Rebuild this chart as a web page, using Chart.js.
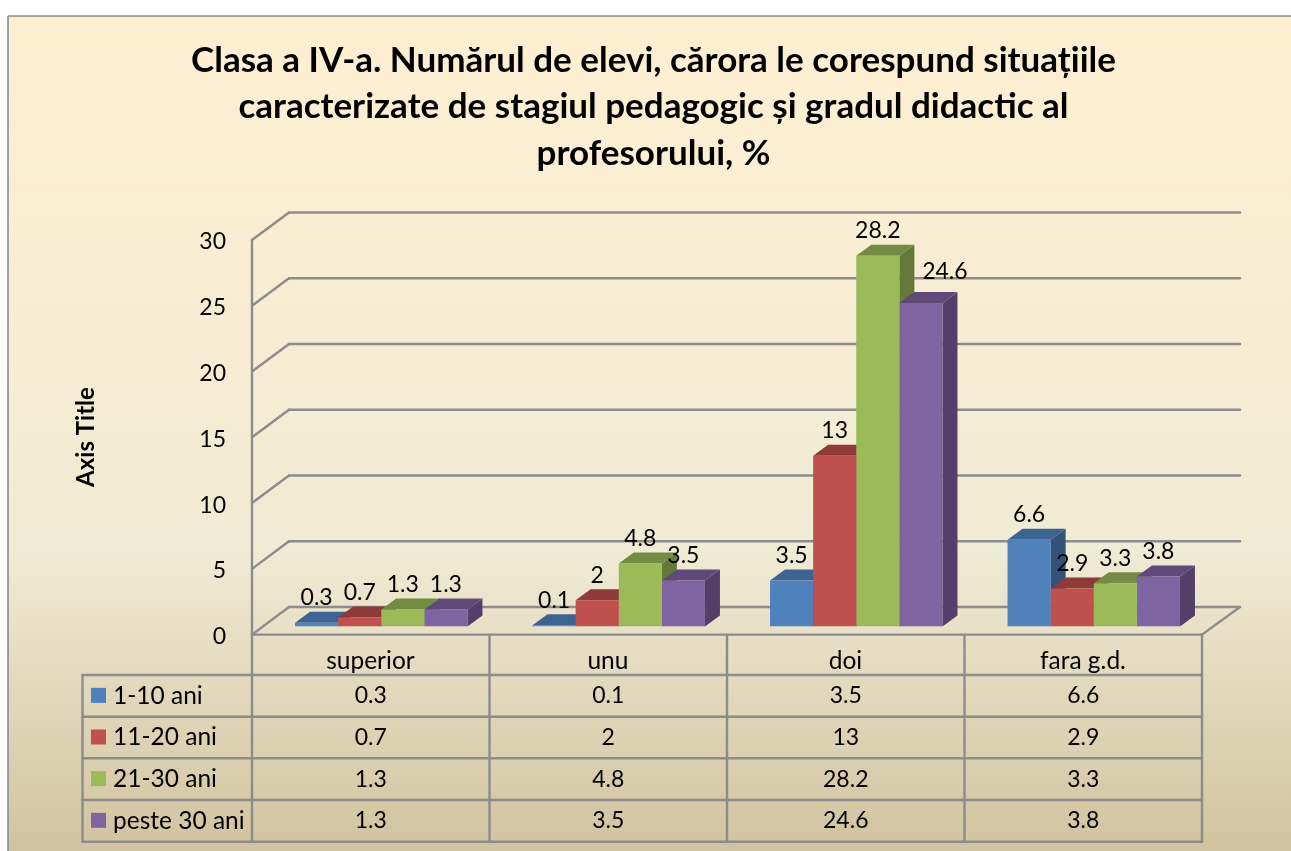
<!DOCTYPE html>
<html>
<head>
<meta charset="utf-8">
<style>html,body{margin:0;padding:0;background:#fff}canvas{display:block}</style>
<script src="https://cdn.jsdelivr.net/npm/chart.js@4"></script>
</head>
<body>
<canvas id="c" width="1291" height="851"></canvas>
<script>
const categories = ["superior", "unu", "doi", "fara g.d."];
const seriesNames = ["1-10 ani", "11-20 ani", "21-30 ani", "peste 30 ani"];
const ani1_10 = [0.3, 0.1, 3.5, 6.6];
const ani11_20 = [0.7, 2, 13, 2.9];
const ani21_30 = [1.3, 4.8, 28.2, 3.3];
const peste30 = [1.3, 3.5, 24.6, 3.8];
const yTicks = [0, 5, 10, 15, 20, 25, 30];
const titleLines = [
  "Clasa a IV-a. Numărul de elevi, cărora le corespund situațiile",
  "caracterizate de stagiul pedagogic și gradul didactic al",
  "profesorului, %"
];
const axisTitle = "Axis Title";

const seriesValues = [ani1_10, ani11_20, ani21_30, peste30];
const frontColors = ["#4F81BD", "#C0504D", "#9BBB59", "#8064A2"];
const sideColors = ["#33527A", "#7D3432", "#657A3A", "#533F6A"];
const topColors = ["#3D6392", "#8E3A38", "#738B42", "#5F4A79"];
const FONT = "Lato";
const NUM_SIZE = 23, TEXT_SIZE = 24.5;
const LINE = "#8C8C8C";
const TXT = "#000";
const DEPTH_X = 15, DEPTH_Y = 11;
const WALL = {frontX: 252, backX: 289, frontDY: 8, backDY: -19.6, backRight: 1240, frontRight: 1202};
const TABLE = {left: 82.5, rows: [675, 716.7, 758.3, 800, 841.7], top: 635};
// the one data label that sits away from its bar in the reference (series 3, category 2)
const LABEL_SHIFT = {"3:2": [24, -6]};

function seg(ctx, x1, y1, x2, y2) { ctx.beginPath(); ctx.moveTo(x1, y1); ctx.lineTo(x2, y2); ctx.stroke(); }
function poly(ctx, pts, fill) {
  ctx.fillStyle = fill; ctx.beginPath();
  pts.forEach((p, i) => i ? ctx.lineTo(p[0], p[1]) : ctx.moveTo(p[0], p[1]));
  ctx.closePath(); ctx.fill();
}

const scene = {
  id: "scene",
  beforeDraw(chart) {
    const ctx = chart.ctx;
    ctx.save();
    ctx.fillStyle = "#fff"; ctx.fillRect(0, 0, chart.width, chart.height);
    const g = ctx.createLinearGradient(0, 16, 0, 851);
    g.addColorStop(0, "#FFEFD1"); g.addColorStop(0.64, "#F0EBD5"); g.addColorStop(1, "#D1C39F");
    ctx.fillStyle = g; ctx.fillRect(8, 16, chart.width - 8, chart.height - 16);
    ctx.strokeStyle = "#8A8A8A"; ctx.lineWidth = 1.6;
    seg(ctx, 8, 851, 8, 16); seg(ctx, 8, 16, 1291, 16);
    ctx.restore();
  },
  beforeDatasetsDraw(chart) {
    const ctx = chart.ctx, y = chart.scales.y;
    ctx.save();
    ctx.strokeStyle = LINE; ctx.lineWidth = 2.4; ctx.lineCap = "round";
    // walls and grid
    yTicks.forEach(t => {
      const p = y.getPixelForValue(t);
      seg(ctx, WALL.frontX, p + WALL.frontDY, WALL.backX, p + WALL.backDY);
      seg(ctx, WALL.backX, p + WALL.backDY, WALL.backRight, p + WALL.backDY);
    });
    const p0 = y.getPixelForValue(0), p30 = y.getPixelForValue(30);
    seg(ctx, WALL.frontX, p30 + WALL.frontDY, WALL.frontX, TABLE.rows[4]);
    seg(ctx, WALL.frontX, p0 + WALL.frontDY, WALL.frontRight, p0 + WALL.frontDY);
    seg(ctx, WALL.frontRight, p0 + WALL.frontDY, WALL.backRight, p0 + WALL.backDY);
    // table
    const cw = (WALL.frontRight - WALL.frontX) / categories.length;
    for (let i = 1; i <= categories.length; i++) {
      const xx = WALL.frontX + i * cw;
      seg(ctx, xx, TABLE.top, xx, TABLE.rows[4]);
    }
    seg(ctx, TABLE.left, TABLE.rows[0], TABLE.left, TABLE.rows[4]);
    TABLE.rows.forEach(r => seg(ctx, TABLE.left, r, WALL.frontRight, r));
    ctx.restore();
    // bar sides and tops, left to right
    ctx.save();
    chart.data.datasets.forEach((ds, di) => {
      chart.getDatasetMeta(di).data.forEach(b => {
        const w = b.width, l = b.x - w / 2, r = b.x + w / 2, t = b.y, base = b.base;
        poly(ctx, [[r, t], [r + DEPTH_X, t - DEPTH_Y], [r + DEPTH_X, base - DEPTH_Y], [r, base]], sideColors[di]);
        poly(ctx, [[l, t], [l + DEPTH_X, t - DEPTH_Y], [r + DEPTH_X, t - DEPTH_Y], [r, t]], topColors[di]);
      });
    });
    ctx.restore();
  },
  afterDatasetsDraw(chart) {
    const ctx = chart.ctx;
    ctx.save();
    ctx.fillStyle = TXT; ctx.textBaseline = "middle";
    // data labels
    ctx.font = NUM_SIZE + "px " + FONT; ctx.textAlign = "center";
    chart.data.datasets.forEach((ds, di) => {
      chart.getDatasetMeta(di).data.forEach((b, i) => {
        const s = LABEL_SHIFT[di + ":" + i] || [0, 0];
        ctx.fillText(String(ds.data[i]), b.x + s[0], b.y - 25 + s[1]);
      });
    });
    // table cells
    const cw = (WALL.frontRight - WALL.frontX) / categories.length;
    seriesValues.forEach((vals, si) => {
      const cy = (TABLE.rows[si] + TABLE.rows[si + 1]) / 2;
      ctx.font = NUM_SIZE + "px " + FONT;
      vals.forEach((v, ci) => {
        ctx.textAlign = "center";
        ctx.fillText(String(v), WALL.frontX + cw * (ci + 0.5), cy);
      });
      ctx.fillStyle = frontColors[si];
      ctx.fillRect(91, cy - 8, 15, 15);
      ctx.fillStyle = TXT; ctx.textAlign = "left";
      ctx.font = TEXT_SIZE + "px " + FONT;
      ctx.fillText(seriesNames[si], 113, cy);
    });
    // y axis title
    ctx.translate(86, 437); ctx.rotate(-Math.PI / 2);
    ctx.font = "bold 24px " + FONT; ctx.textAlign = "center";
    ctx.fillText(axisTitle, 0, 0);
    ctx.restore();
  }
};

new Chart(document.getElementById("c"), {
  type: "bar",
  data: {
    labels: categories,
    datasets: seriesNames.map((n, i) => ({
      label: n, data: seriesValues[i], backgroundColor: frontColors[i], borderWidth: 0
    }))
  },
  options: {
    responsive: false, animation: false,
    devicePixelRatio: 1,
    layout: {padding: {left: 94.5, right: 78.5, top: 0, bottom: 164.4}},
    datasets: {bar: {barPercentage: 1, categoryPercentage: 0.726}},
    plugins: {
      legend: {display: false},
      tooltip: {enabled: false},
      title: {
        display: true, text: titleLines, color: TXT,
        font: {family: FONT, size: 35, weight: "bold", lineHeight: 1.33},
        padding: {top: 37, bottom: 55.4}
      }
    },
    scales: {
      x: {
        grid: {display: false, drawTicks: false}, border: {display: false},
        ticks: {color: TXT, font: {family: FONT, size: TEXT_SIZE}, padding: 20, labelOffset: -10.8, maxRotation: 0, autoSkip: false},
        afterFit(s) { s.height = 60; }
      },
      y: {
        min: 0, max: 30,
        grid: {display: false, drawTicks: false}, border: {display: false},
        ticks: {color: TXT, font: {family: FONT, size: NUM_SIZE}, stepSize: 5, padding: 36.5, labelOffset: 10},
        afterFit(s) { s.width = 168; }
      }
    }
  },
  plugins: [scene]
});
</script>
</body>
</html>
